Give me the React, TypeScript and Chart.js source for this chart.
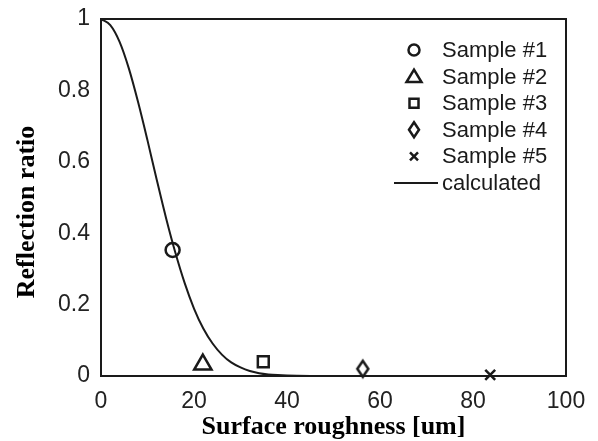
import React, { useEffect, useRef } from 'react';
import { Chart, registerables } from 'chart.js';

Chart.register(...registerables);

// Calculated curve
const curveX = [0, 2, 4, 6, 8, 10, 12, 14, 16, 18, 20, 22, 24, 26, 28, 30, 32, 34, 36, 38, 40, 45, 50, 60, 70, 80, 90, 100];
const curveY = [1, 0.983, 0.936, 0.861, 0.766, 0.66, 0.549, 0.442, 0.345, 0.26, 0.189, 0.133, 0.091, 0.06, 0.038, 0.024, 0.014, 0.008, 0.0045, 0.0025, 0.0013, 0.0002, 0, 0, 0, 0, 0, 0];

// Measured samples
const sampleLabels = ['Sample #1', 'Sample #2', 'Sample #3', 'Sample #4', 'Sample #5'];
const sampleX = [15.4, 21.9, 34.9, 56.3, 83.7];
const sampleY = [0.353, 0.032, 0.04, 0.02, 0.003];
const curveLabel = 'calculated';

const xTitle = 'Surface roughness [um]';
const yTitle = 'Reflection ratio';
const xMin = 0, xMax = 100, xStep = 20;
const yMin = 0, yMax = 1, yStep = 0.2;

const INK = '#1a1a1a';
const TITLE_FONT = 'bold 26px "Liberation Serif", "Times New Roman", serif';

function makeDiamond(hw: number, hh: number, lw: number): HTMLCanvasElement {
  const c = document.createElement('canvas');
  const w = Math.ceil(hw * 2 + lw * 2 + 2);
  const h = Math.ceil(hh * 2 + lw * 2 + 2);
  c.width = w;
  c.height = h;
  const ctx = c.getContext('2d')!;
  const cx = w / 2, cy = h / 2;
  ctx.strokeStyle = INK;
  ctx.lineWidth = lw;
  ctx.lineJoin = 'miter';
  ctx.beginPath();
  ctx.moveTo(cx, cy - hh);
  ctx.lineTo(cx + hw, cy);
  ctx.lineTo(cx, cy + hh);
  ctx.lineTo(cx - hw, cy);
  ctx.closePath();
  ctx.stroke();
  return c;
}

function drawLegendMarker(ctx: CanvasRenderingContext2D, kind: number, x: number, y: number) {
  ctx.save();
  ctx.strokeStyle = INK;
  ctx.lineWidth = 2.5;
  ctx.beginPath();
  if (kind === 0) {
    ctx.arc(x, y, 5.5, 0, Math.PI * 2);
  } else if (kind === 1) {
    ctx.moveTo(x, y - 7);
    ctx.lineTo(x + 7.5, y + 5.5);
    ctx.lineTo(x - 7.5, y + 5.5);
    ctx.closePath();
  } else if (kind === 2) {
    ctx.rect(x - 4.5, y - 4.5, 9, 9);
  } else if (kind === 3) {
    ctx.moveTo(x, y - 7.5);
    ctx.lineTo(x + 5, y);
    ctx.lineTo(x, y + 7.5);
    ctx.lineTo(x - 5, y);
    ctx.closePath();
  } else if (kind === 4) {
    ctx.moveTo(x - 4, y - 4);
    ctx.lineTo(x + 4, y + 4);
    ctx.moveTo(x + 4, y - 4);
    ctx.lineTo(x - 4, y + 4);
  }
  ctx.stroke();
  ctx.restore();
}

const frameAndLegend = {
  id: 'frameAndLegend',
  afterDraw(chart: any) {
    const { ctx, chartArea } = chart;
    ctx.save();
    // top and right frame
    ctx.strokeStyle = INK;
    ctx.lineWidth = 2;
    ctx.beginPath();
    ctx.moveTo(chartArea.left, chartArea.top);
    ctx.lineTo(chartArea.right, chartArea.top);
    ctx.lineTo(chartArea.right, chartArea.bottom);
    ctx.stroke();

    // y-axis title
    ctx.save();
    ctx.translate(27, chartArea.bottom - 164);
    ctx.rotate(-Math.PI / 2);
    ctx.font = TITLE_FONT;
    ctx.fillStyle = '#000';
    ctx.textAlign = 'center';
    ctx.textBaseline = 'middle';
    ctx.fillText(yTitle, 0, 0);
    ctx.restore();

    // legend
    const markerX = chartArea.right - 152;
    const textX = chartArea.right - 124;
    const startY = chartArea.top + 31;
    const step = 26.6;
    ctx.font = '22px "Liberation Sans", Arial, sans-serif';
    ctx.fillStyle = INK;
    ctx.textBaseline = 'middle';
    ctx.textAlign = 'left';
    const datasets = chart.data.datasets;
    datasets.forEach((ds: any, i: number) => {
      const y = startY + i * step;
      if (ds.showLine) {
        ctx.strokeStyle = INK;
        ctx.lineWidth = 2;
        ctx.beginPath();
        ctx.moveTo(markerX - 20, y);
        ctx.lineTo(markerX + 24, y);
        ctx.stroke();
      } else {
        drawLegendMarker(ctx, i, markerX, y);
      }
      ctx.fillText(ds.label, textX, y + 1);
    });
    ctx.restore();
  },
};

export default function App() {
  const ref = useRef<HTMLCanvasElement>(null);

  useEffect(() => {
    if (!ref.current) return;
    const diamond = makeDiamond(5.5, 8, 2.5);
    const styles: any[] = ['circle', 'triangle', 'rect', diamond, 'crossRot'];
    const radii = [7, 10, 7.7, 8, 7];

    const sampleSets = sampleLabels.map((label, i) => ({
      label,
      data: [{ x: sampleX[i], y: sampleY[i] }],
      pointStyle: styles[i],
      pointRadius: radii[i],
      pointBorderWidth: 2.5,
      borderColor: INK,
      backgroundColor: 'rgba(0,0,0,0)',
      showLine: false,
      clip: false as any,
    }));

    const curveSet = {
      label: curveLabel,
      data: curveX.map((x, i) => ({ x, y: curveY[i] })),
      showLine: true,
      pointRadius: 0,
      borderColor: INK,
      borderWidth: 2,
      cubicInterpolationMode: 'monotone' as const,
      backgroundColor: 'rgba(0,0,0,0)',
    };

    const tickFont = { family: '"Liberation Sans", Arial, sans-serif', size: 23 };
    const titleFont = { family: '"Liberation Serif", "Times New Roman", serif', size: 26, weight: 'bold' as const, lineHeight: 1 };

    const chart = new Chart(ref.current, {
      type: 'scatter',
      data: { datasets: [...sampleSets, curveSet] as any },
      options: {
        responsive: false,
        animation: false,
        layout: { padding: { top: 19, right: 32, left: 0, bottom: 0 } },
        plugins: { legend: { display: false }, tooltip: { enabled: false } },
        scales: {
          x: {
            type: 'linear',
            min: xMin,
            max: xMax,
            grid: { display: false, drawTicks: false },
            border: { display: true, color: INK, width: 2 },
            ticks: { stepSize: xStep, padding: 12, font: tickFont, color: '#222' },
            title: { display: true, text: xTitle, font: titleFont, color: '#000', padding: { top: 0, bottom: 1 } },
            afterFit: (s: any) => {
              s.height = 65;
              s.paddingLeft = 0;
              s.paddingRight = 0;
            },
          },
          y: {
            type: 'linear',
            min: yMin,
            max: yMax,
            grid: { display: false, drawTicks: false },
            border: { display: true, color: INK, width: 2 },
            ticks: {
              stepSize: yStep,
              padding: 11,
              font: tickFont,
              color: '#222',
              callback: (v: any) => String(Math.round(Number(v) * 10) / 10),
            },
            title: { display: false, text: yTitle },
            afterFit: (s: any) => {
              s.width = 101;
              s.paddingTop = 0;
              s.paddingBottom = 0;
            },
          },
        },
      },
      plugins: [frameAndLegend],
    });
    return () => chart.destroy();
  }, []);

  return (
    <div style={{ position: 'absolute', left: 0, top: 0, width: 598, height: 441, background: '#fff' }}>
      <canvas ref={ref} width={598} height={441} />
    </div>
  );
}
